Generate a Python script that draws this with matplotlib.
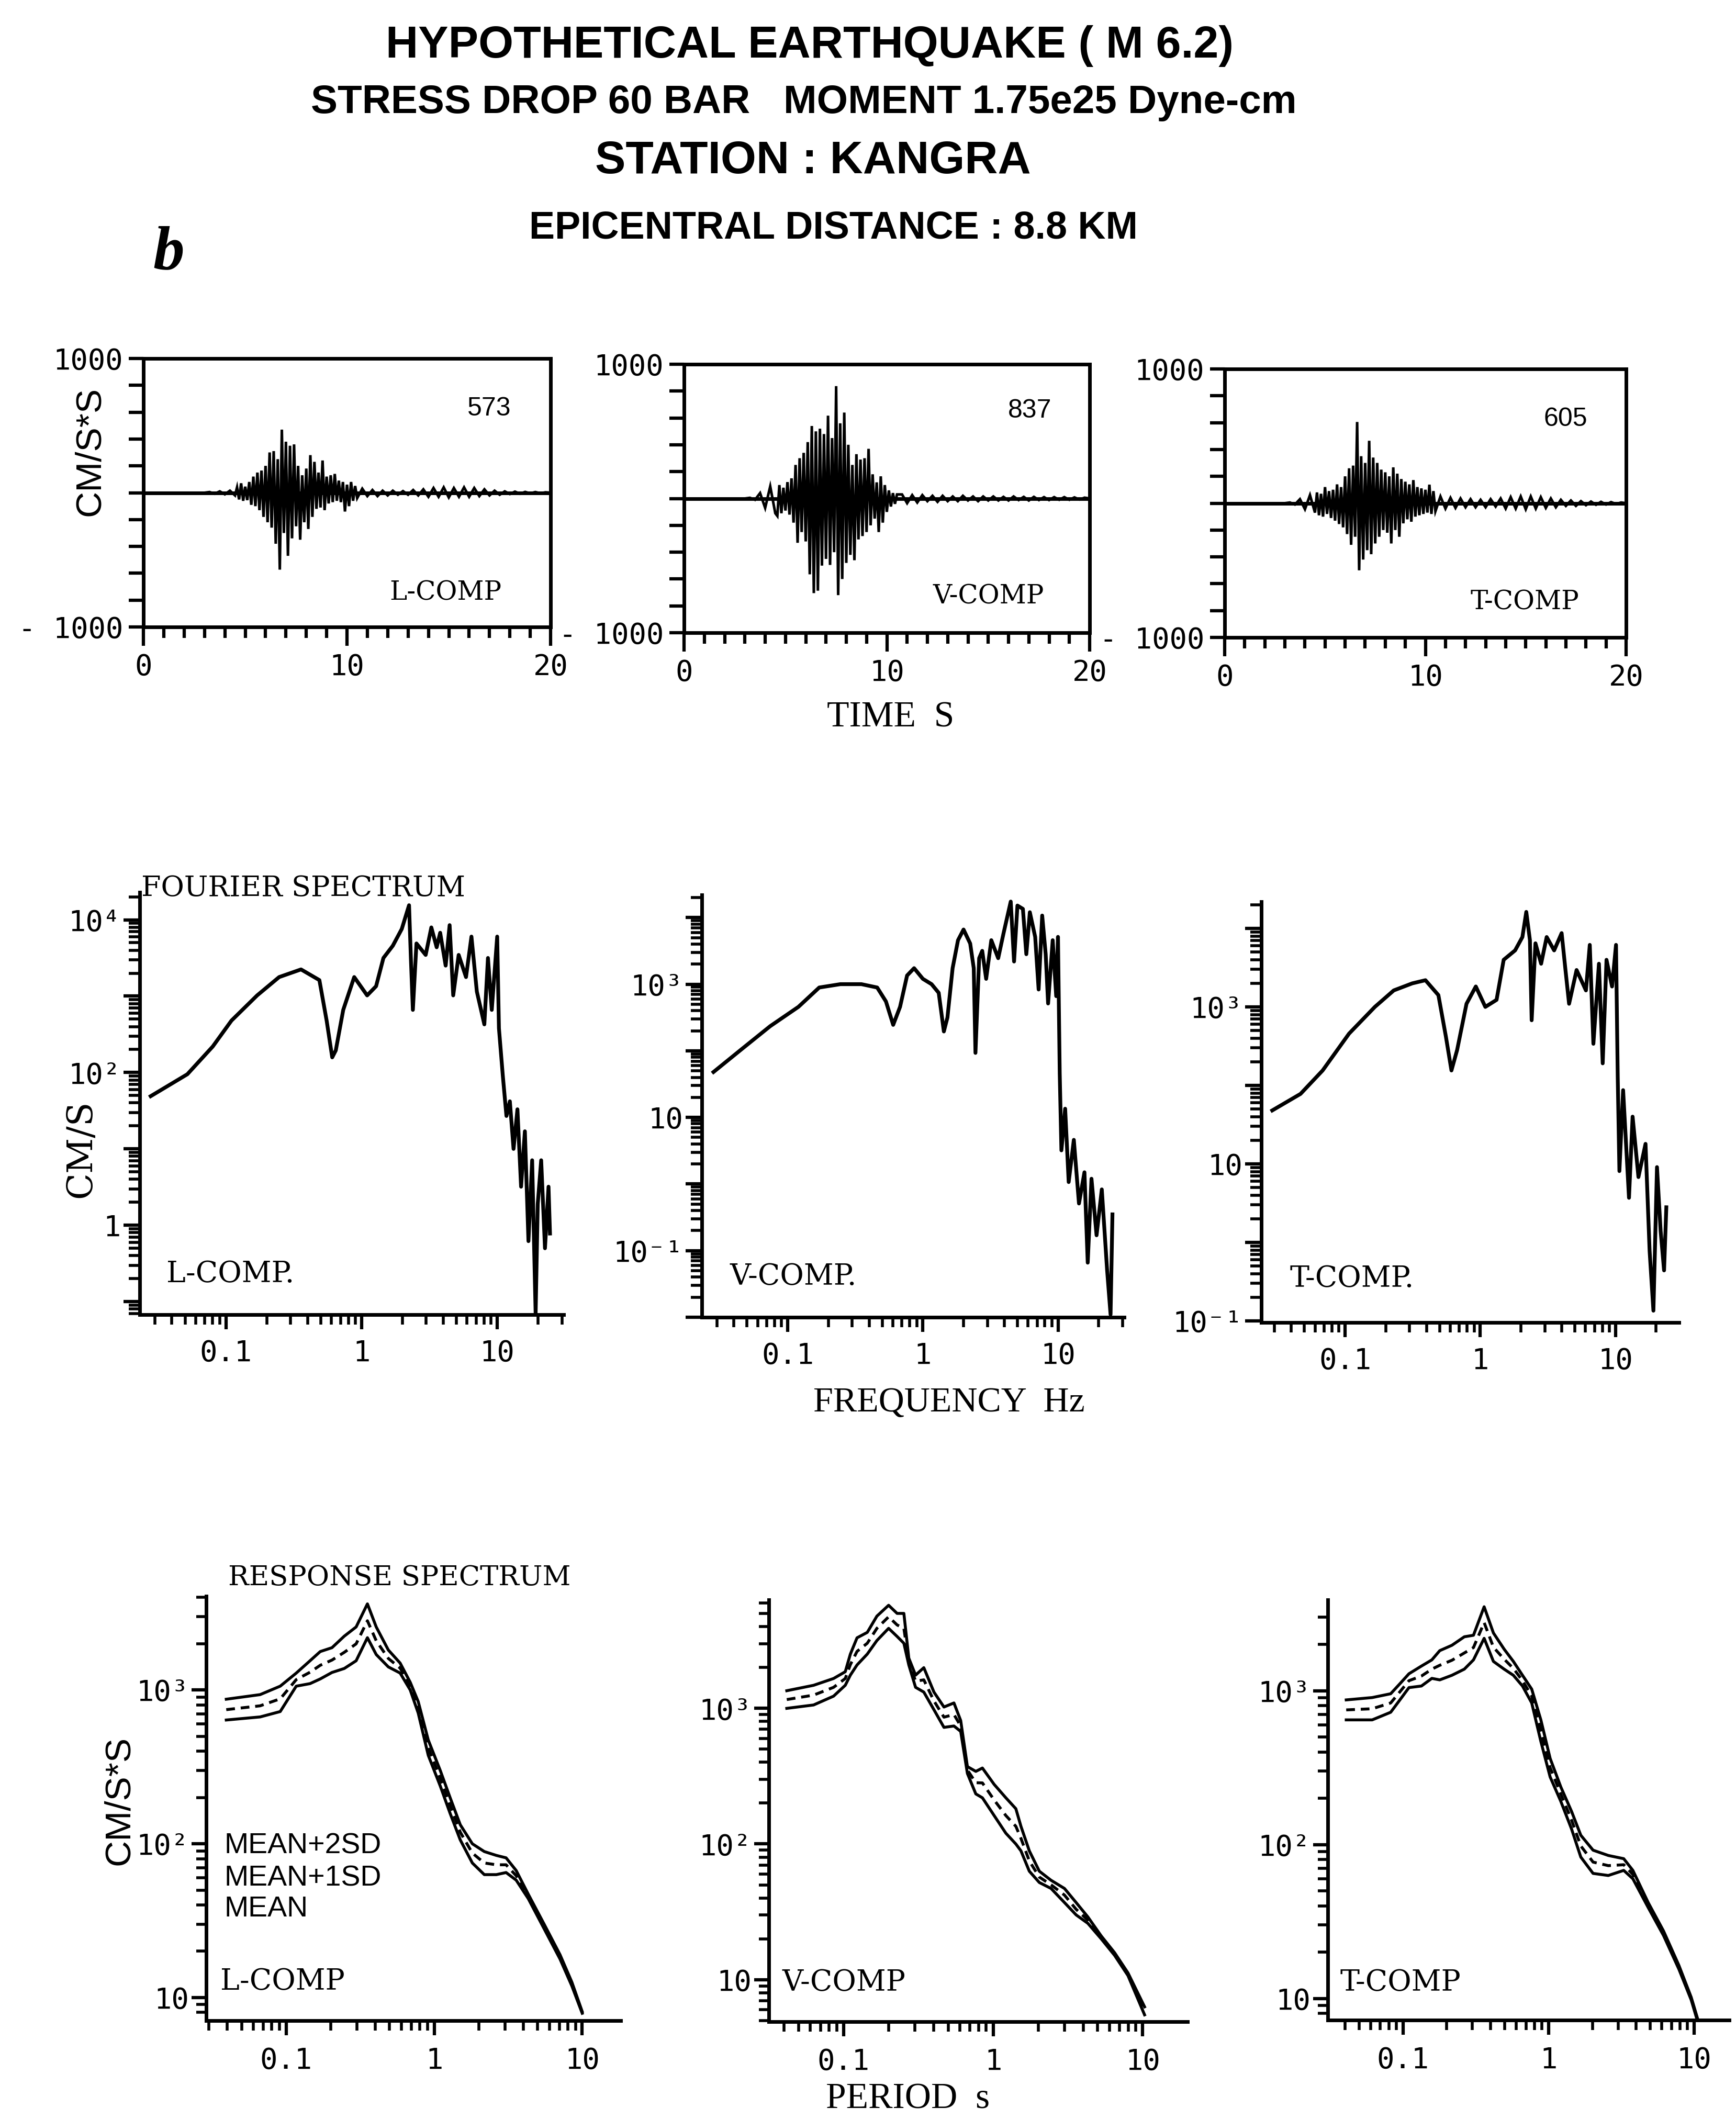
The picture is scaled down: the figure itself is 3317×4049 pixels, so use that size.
import numpy as np
import matplotlib
matplotlib.use("Agg")
import matplotlib.pyplot as plt
from matplotlib.ticker import FixedLocator, LogLocator, FuncFormatter, NullFormatter

# ---------------- accelerograms (cm/s*s) ----------------
acc_time = np.concatenate([[0.0, 3.0],
                           np.round(np.arange(3.25, 4.51, 0.25), 2),
                           np.round(np.arange(4.6, 10.51, 0.1), 2),
                           np.round(np.arange(10.75, 20.01, 0.25), 2)])

acc_L = [0, 0,
         5, -8, 10, -12, 15, -20,
         40, -50, 70, -60, 45, -55, 80, -90, 120, -100,
         150, -130, 165, -180, 200, -220, 300, -260, 310, -380,
         250, -573, 470, -300, 380, -470, 350, -340, 360, -250,
         200, -350, 130, -220, 180, -270, 280, -180, 230, -120,
         150, -110, 240, -130, 120, -80, 130, -70, 140, -60,
         90, -70, 80, -140, 60, -100, 80, -60, 50, -40,
         30, -25, 20, -25, 15, -20, 15, -15, 12, -15,
         20, -20, 25, -30, 35, -30, 40, -35, 35, -30,
         40, -30, 35, -25, 25, -20, 15, -15, 10, -10,
         8, -8, 6, -5, 5, -4, 3, 0]

acc_V = [0, 0,
         5, -10, 40, -70, 90, -110,
         -130, 100, -110, 80, -90, 122, -120, 150, -180, 250,
         -330, 300, -250, 340, -320, 420, -565, 540, -705, 500,
         -687, 520, -500, 480, -450, 617, -495, 450, -400, 837,
         -720, 560, -600, 640, -480, 400, -420, 250, -460, 330,
         -305, 290, -280, 300, -250, 370, -200, 180, -150, 120,
         -250, 165, -180, 100, -100, 60, -60, 40, -40, 30,
         30, -35, 25, -30, 25, -20, 20, -25, 20, -20,
         15, -20, 20, -15, 15, -20, 15, -15, 15, -15,
         12, -15, 15, -12, 12, -15, 12, -12, 10, -12,
         10, -10, 10, -10, 8, -8, 6, 0]

acc_T = [0, 0,
         5, -10, 30, -45, 60, -70,
         80, -90, 70, -100, 120, -80, 90, -110, 100, -130,
         140, -155, 120, -180, 200, -230, 260, -310, 280, -250,
         605, -500, 350, -420, 300, -350, 465, -380, 340, -300,
         300, -250, 250, -200, 230, -220, 200, -300, 267, -200,
         220, -250, 180, -150, 160, -120, 140, -138, 172, -100,
         120, -90, 110, -80, 100, -70, 138, -80, 90, -60,
         50, -40, 40, -35, 35, -30, 30, -30, 25, -30,
         30, -25, 35, -40, 45, -40, 50, -45, 50, -40,
         45, -35, 35, -30, 25, -20, 20, -20, 15, -15,
         12, -12, 10, -10, 8, -6, 5, 0]

acc_peaks = ["573", "837", "605"]
comp_names = ["L", "V", "T"]

# ---------------- Fourier spectra (Hz, cm/s) ----------------
four_f_L = [0.0279, 0.052, 0.080, 0.110, 0.170, 0.247, 0.358, 0.489, 0.553, 0.608,
            0.646, 0.733, 0.883, 1.10, 1.28, 1.45, 1.70, 1.98, 2.24, 2.31,
            2.39, 2.54, 2.97, 3.27, 3.58, 3.80, 4.17, 4.46, 4.74, 5.20,
            5.89, 6.46, 7.08, 8.04, 8.55, 9.12, 10.0, 10.3, 11.0, 11.7,
            12.4, 13.2, 14.1, 15.0, 16.0, 17.0, 18.1, 19.2, 19.9, 21.1,
            22.5, 23.9, 24.5]
four_a_L = [49, 95, 219, 479, 1023, 1778, 2239, 1622, 479, 158,
            195, 661, 1778, 1023, 1349, 3162, 4571, 7586, 15500, 3162,
            661, 4898, 3467, 7943, 4365, 6761, 2512, 8511, 1023, 3467,
            1778, 6026, 1148, 427, 3162, 661, 6026, 380, 91, 27,
            42, 10, 33, 3.2, 17, 0.62, 7.1, 0.07, 1.9, 7.1,
            0.50, 3.2, 0.78]

four_f_V = [0.0282, 0.0459, 0.0741, 0.120, 0.171, 0.245, 0.351, 0.459, 0.533, 0.603,
            0.678, 0.764, 0.861, 1.00, 1.16, 1.31, 1.43, 1.52, 1.66, 1.82,
            2.00, 2.24, 2.38, 2.45, 2.61, 2.75, 2.94, 3.21, 3.61, 3.95,
            4.47, 4.73, 5.01, 5.50, 5.83, 6.19, 6.78, 7.19, 7.64, 8.11,
            8.45, 9.14, 9.70, 10.0, 10.3, 10.6, 11.3, 12.0, 13.1, 14.3,
            15.7, 16.6, 17.7, 19.3, 21.1, 23.1, 24.5, 25.3]
four_a_V = [48, 107, 234, 457, 891, 1000, 1000, 891, 550, 245,
            457, 1349, 1738, 1202, 1000, 741, 195, 316, 1738, 4571,
            6607, 4074, 1738, 93, 2455, 3162, 1202, 4571, 2455, 5754,
            17378, 2188, 15136, 13490, 2818, 12023, 5129, 832, 10715, 2818,
            513, 4571, 661, 5129, 46, 3.2, 13.5, 1.07, 4.6, 0.51,
            1.5, 0.066, 1.2, 0.17, 0.83, 0.051, 0.011, 0.35]

four_f_T = [0.0289, 0.0468, 0.0682, 0.107, 0.166, 0.229, 0.314, 0.393, 0.490, 0.557,
            0.612, 0.674, 0.791, 0.927, 1.09, 1.32, 1.49, 1.81, 2.05, 2.19,
            2.33, 2.40, 2.56, 2.82, 3.10, 3.52, 4.00, 4.27, 4.54, 5.16,
            6.05, 6.46, 6.87, 7.55, 8.05, 8.59, 9.44, 10.1, 10.4, 10.7,
            11.4, 12.6, 13.4, 14.8, 16.7, 17.9, 19.1, 20.3, 21.6, 22.9,
            23.8]
four_a_T = [48, 78, 155, 457, 1000, 1622, 1995, 2188, 1413, 417,
            155, 282, 1096, 1820, 1000, 1230, 3981, 5248, 7762, 16218,
            7079, 676, 6457, 3548, 7762, 5248, 8710, 2951, 1096, 2951,
            1622, 6166, 339, 3548, 191, 3981, 1820, 6166, 129, 8.1,
            87, 3.7, 40, 6.8, 18, 0.78, 0.135, 9.1, 1.4, 0.44,
            2.8]

# ---------------- response spectra (s, cm/s*s) ----------------
resp_p_L = [0.0394, 0.0667, 0.0912, 0.117, 0.145, 0.170, 0.204, 0.247, 0.297, 0.354,
            0.406, 0.490, 0.589, 0.689, 0.780, 0.912, 1.10, 1.28, 1.50, 1.81,
            2.18, 2.63, 3.06, 3.58, 4.32, 5.53, 7.08, 8.51, 10.0]
resp_2sd_L = [871, 933, 1059, 1288, 1549, 1778, 1884, 2239, 2570, 3631,
              2570, 1820, 1496, 1122, 841, 473, 299, 200, 133, 100,
              89, 84, 81, 67, 47, 30, 19, 12.6, 8.1]
resp_1sd_L = [745, 789, 876, 1168, 1305, 1448, 1565, 1758, 1995, 2819,
              2090, 1604, 1388, 1059, 772, 422, 266, 178, 119, 87,
              75, 73, 73, 62, 45.5, 29, 18.4, 12.2, 8.0]
resp_mean_L = [638, 668, 724, 1059, 1100, 1180, 1300, 1380, 1549, 2188,
               1700, 1413, 1288, 1000, 708, 376, 237, 158, 106, 75,
               63, 63, 65, 58, 44, 28, 17.8, 11.9, 7.9]

resp_p_V = [0.0417, 0.0630, 0.0857, 0.1026, 0.111, 0.123, 0.144, 0.167, 0.200, 0.228,
            0.253, 0.273, 0.303, 0.344, 0.402, 0.469, 0.547, 0.607, 0.673, 0.766,
            0.848, 1.016, 1.217, 1.419, 1.535, 1.746, 2.037, 2.44, 3.00, 3.59,
            4.30, 5.28, 6.49, 7.98, 10.3]
resp_2sd_V = [1349, 1479, 1660, 1862, 2512, 3311, 3631, 4786, 5754, 5012,
              5012, 2344, 1758, 1995, 1318, 1023, 1096, 813, 372, 343,
              363, 275, 219, 182, 135, 89, 63, 54, 47, 37,
              29, 21, 15.8, 11.2, 6.3]
resp_1sd_V = [1161, 1252, 1429, 1659, 2101, 2630, 3020, 3890, 4731, 4121,
              3891, 2213, 1585, 1622, 1135, 861, 901, 741, 351, 283,
              282, 211, 162, 135, 110, 75, 57, 50, 42, 33,
              27.5, 20.5, 15.4, 10.9, 5.9]
resp_mean_V = [1000, 1059, 1230, 1479, 1758, 2089, 2512, 3162, 3890, 3388,
               3020, 2089, 1429, 1318, 977, 724, 741, 676, 331, 234,
               219, 162, 120, 100, 89, 63, 52, 47, 37, 30,
               26, 20, 15.1, 10.7, 5.5]

resp_p_T = [0.0408, 0.0615, 0.0824, 0.0953, 0.110, 0.134, 0.158, 0.179, 0.217, 0.264,
            0.305, 0.361, 0.418, 0.495, 0.573, 0.662, 0.766, 0.885, 1.025, 1.213,
            1.439, 1.664, 2.02, 2.57, 3.28, 3.79, 4.83, 6.15, 7.85, 9.53,
            10.5]
resp_2sd_T = [871, 902, 955, 1109, 1288, 1445, 1585, 1820, 1972, 2239,
              2291, 3508, 2371, 1862, 1549, 1259, 1023, 646, 363, 237,
              164, 115, 92, 85, 81, 68, 42, 27.5, 16.4, 10.2,
              7.5]
resp_1sd_T = [750, 763, 832, 983, 1161, 1245, 1380, 1462, 1576, 1758,
              1906, 2770, 1916, 1603, 1396, 1162, 923, 550, 316, 213,
              144, 98, 77, 73, 74, 64, 40.5, 26.6, 15.9, 10.0,
              7.35]
resp_mean_T = [646, 646, 724, 871, 1047, 1072, 1202, 1175, 1259, 1380,
               1585, 2188, 1549, 1380, 1259, 1072, 832, 468, 275, 191,
               126, 83, 65, 63, 68, 60, 39, 25.7, 15.5, 9.8,
               7.2]

# ---------------- layout (pixels of the 3317 x 4049 page) ----------------
W, H = 3317, 4049
fig = plt.figure(figsize=(W / 100, H / 100), dpi=100)

MONO = "DejaVu Sans Mono"
SERIF = "DejaVu Serif"
TSERIF = "Liberation Serif"
SANS = "Liberation Sans"


def add_box(l, t, r, b):
    return fig.add_axes([l / W, 1 - b / H, (r - l) / W, (b - t) / H])


def ftext(x, y, s, **kw):
    kw.setdefault("ha", "center")
    kw.setdefault("va", "center")
    fig.text(x / W, 1 - y / H, s, **kw)


def label_fmt(labels):
    def f(v, pos):
        for k, s in labels.items():
            if np.isclose(v, k, rtol=1e-3):
                return s
        return ""
    return FuncFormatter(f)


# titles
ftext(1547, 88, "HYPOTHETICAL EARTHQUAKE ( M 6.2)", family=SANS, weight="bold", fontsize=62)
ftext(1536, 196, "STRESS DROP 60 BAR   MOMENT 1.75e25 Dyne-cm", family=SANS, weight="bold", fontsize=55)
ftext(1553, 308, "STATION : KANGRA", family=SANS, weight="bold", fontsize=63)
ftext(1592, 436, "EPICENTRAL DISTANCE : 8.8 KM", family=SANS, weight="bold", fontsize=53)
ftext(322, 485, "b", family=TSERIF, weight="bold", style="italic", fontsize=86)

# ---------------- row 1: accelerograms ----------------
acc_boxes = [(274, 685, 1052, 1198), (1307, 696, 2082, 1209), (2340, 705, 3107, 1218)]
acc_series = [acc_L, acc_V, acc_T]
peak_pos = [(935, 781), (1968, 785), (2991, 801)]
comp_pos1 = [(851, 1133), (1889, 1140), (2913, 1151)]

for box, acc, peak, ppos, cpos, name in zip(acc_boxes, acc_series, acc_peaks, peak_pos, comp_pos1, comp_names):
    ax = add_box(*box)
    ax.plot(acc_time, acc, color="black", lw=3.6, solid_joinstyle="miter")
    ax.axhline(0, color="black", lw=5, zorder=1)
    ax.set_xlim(0, 20)
    ax.set_ylim(-1000, 1000)
    ax.yaxis.set_major_locator(FixedLocator(np.arange(-1000, 1001, 200)))
    ax.yaxis.set_major_formatter(label_fmt({-1000: "- 1000", 1000: "1000"}))
    ax.xaxis.set_major_locator(FixedLocator([0, 10, 20]))
    ax.xaxis.set_minor_locator(FixedLocator(np.arange(0, 21, 1)))
    ax.tick_params(axis="y", which="major", direction="out", length=20, width=4.5, pad=8,
                   labelsize=40, left=True, right=False)
    ax.tick_params(axis="x", which="major", direction="out", length=26, width=4.5, pad=10,
                   labelsize=40)
    ax.tick_params(axis="x", which="minor", direction="out", length=15, width=4.5)
    for lab in ax.get_xticklabels() + ax.get_yticklabels():
        lab.set_family(MONO)
    for sp in ax.spines.values():
        sp.set_linewidth(5)
    ftext(ppos[0], ppos[1], peak, family=SANS, fontsize=36)
    ftext(cpos[0], cpos[1], name + "-COMP", family=SERIF, fontsize=36)

ftext(172, 862, "CM/S*S", family=SANS, fontsize=50, rotation=90)
ftext(1702, 1372, "TIME  S", family=TSERIF, fontsize=50)

# ---------------- row 2: Fourier spectra ----------------
four_boxes = [(267, 1705, 1077, 2512), (1341, 1710, 2148, 2517), (2410, 1723, 3208, 2527)]
four_xlims = [(10 ** -1.635, 10 ** 1.49), (10 ** -1.636, 10 ** 1.49), (10 ** -1.62, 10 ** 1.47)]
four_ylims = [(10 ** -1.17, 10 ** 4.36), (10 ** -2.0, 10 ** 4.34), (10 ** -1.02, 10 ** 4.34)]
four_ylabels = [{1e4: "10⁴", 1e2: "10²", 1: "1"},
                {1e3: "10³", 10: "10", 0.1: "10⁻¹"},
                {1e3: "10³", 10: "10", 0.1: "10⁻¹"}]
four_series = [(four_f_L, four_a_L), (four_f_V, four_a_V), (four_f_T, four_a_T)]
comp_pos2 = [(440, 2435), (1516, 2440), (2583, 2444)]
x_labels = {0.1: "0.1", 1: "1", 10: "10"}


def log_axes(ax, ylabels, ylen, xpad):
    ax.set_xscale("log")
    ax.set_yscale("log")
    for a in (ax.xaxis, ax.yaxis):
        a.set_major_locator(LogLocator(base=10, numticks=30))
        a.set_minor_locator(LogLocator(base=10, subs=np.arange(2, 10), numticks=30))
        a.set_minor_formatter(NullFormatter())
    ax.xaxis.set_major_formatter(label_fmt(x_labels))
    ax.yaxis.set_major_formatter(label_fmt(ylabels))
    ax.spines["top"].set_visible(False)
    ax.spines["right"].set_visible(False)
    ax.spines["left"].set_linewidth(5)
    ax.spines["bottom"].set_linewidth(5)
    ax.tick_params(axis="y", which="major", direction="out", length=ylen, width=4.5, pad=4, labelsize=40)
    ax.tick_params(axis="y", which="minor", direction="out", length=ylen * 0.7, width=4)
    ax.tick_params(axis="x", which="major", direction="out", length=20, width=4.5, pad=xpad, labelsize=40)
    ax.tick_params(axis="x", which="minor", direction="out", length=14, width=4)
    for lab in ax.get_xticklabels() + ax.get_yticklabels():
        lab.set_family(MONO)


for box, xl, yl, ylab, (f, a), cpos, name in zip(four_boxes, four_xlims, four_ylims, four_ylabels,
                                                  four_series, comp_pos2, comp_names):
    ax = add_box(*box)
    ax.plot(f, a, color="black", lw=5.2)
    ax.set_xlim(*xl)
    ax.set_ylim(*yl)
    log_axes(ax, ylab, 22, 14)
    ftext(cpos[0], cpos[1], name + "-COMP.", family=SERIF, fontsize=40)

ftext(270, 1698, "FOURIER SPECTRUM", family=SERIF, fontsize=39, ha="left")
ftext(155, 2195, "CM/S", family=SERIF, fontsize=48, rotation=90)
ftext(1813, 2680, "FREQUENCY  Hz", family=TSERIF, fontsize=49)

# ---------------- row 3: response spectra ----------------
resp_boxes = [(394, 3050, 1186, 3861), (1469, 3057, 2269, 3863), (2537, 3057, 3304, 3860)]
resp_xlims = [(10 ** -1.54, 10 ** 1.26), (10 ** -1.50, 10 ** 1.30), (10 ** -1.516, 10 ** 1.24)]
resp_ylims = [(10 ** 0.85, 10 ** 3.61), (10 ** 0.69, 10 ** 3.80), (10 ** 0.86, 10 ** 3.59)]
resp_series = [(resp_p_L, resp_mean_L, resp_1sd_L, resp_2sd_L),
               (resp_p_V, resp_mean_V, resp_1sd_V, resp_2sd_V),
               (resp_p_T, resp_mean_T, resp_1sd_T, resp_2sd_T)]
comp_pos3 = [(540, 3787), (1612, 3789), (2676, 3789)]

for box, xl, yl, (p, m, s1, s2), cpos, name in zip(resp_boxes, resp_xlims, resp_ylims,
                                                   resp_series, comp_pos3, comp_names):
    ax = add_box(*box)
    ax.plot(p, s2, color="black", lw=4)
    ax.plot(p, s1, color="black", lw=4, ls=(0, (3, 2)))
    ax.plot(p, m, color="black", lw=4)
    ax.set_xlim(*xl)
    ax.set_ylim(*yl)
    log_axes(ax, {1e3: "10³", 1e2: "10²", 10: "10"}, 20, 16)
    ftext(cpos[0], cpos[1], name + "-COMP", family=SERIF, fontsize=40)

ftext(763, 3015, "RESPONSE SPECTRUM", family=SERIF, fontsize=38)
ftext(228, 3440, "CM/S*S", family=SANS, fontsize=50, rotation=90)
for y, s in zip([3527, 3589, 3648], ["MEAN+2SD", "MEAN+1SD", "MEAN"]):
    ftext(429, y, s, family=SANS, fontsize=40, ha="left")
ftext(1735, 4012, "PERIOD  s", family=TSERIF, fontsize=50)

fig.savefig("out.png", dpi=100, facecolor="white")
